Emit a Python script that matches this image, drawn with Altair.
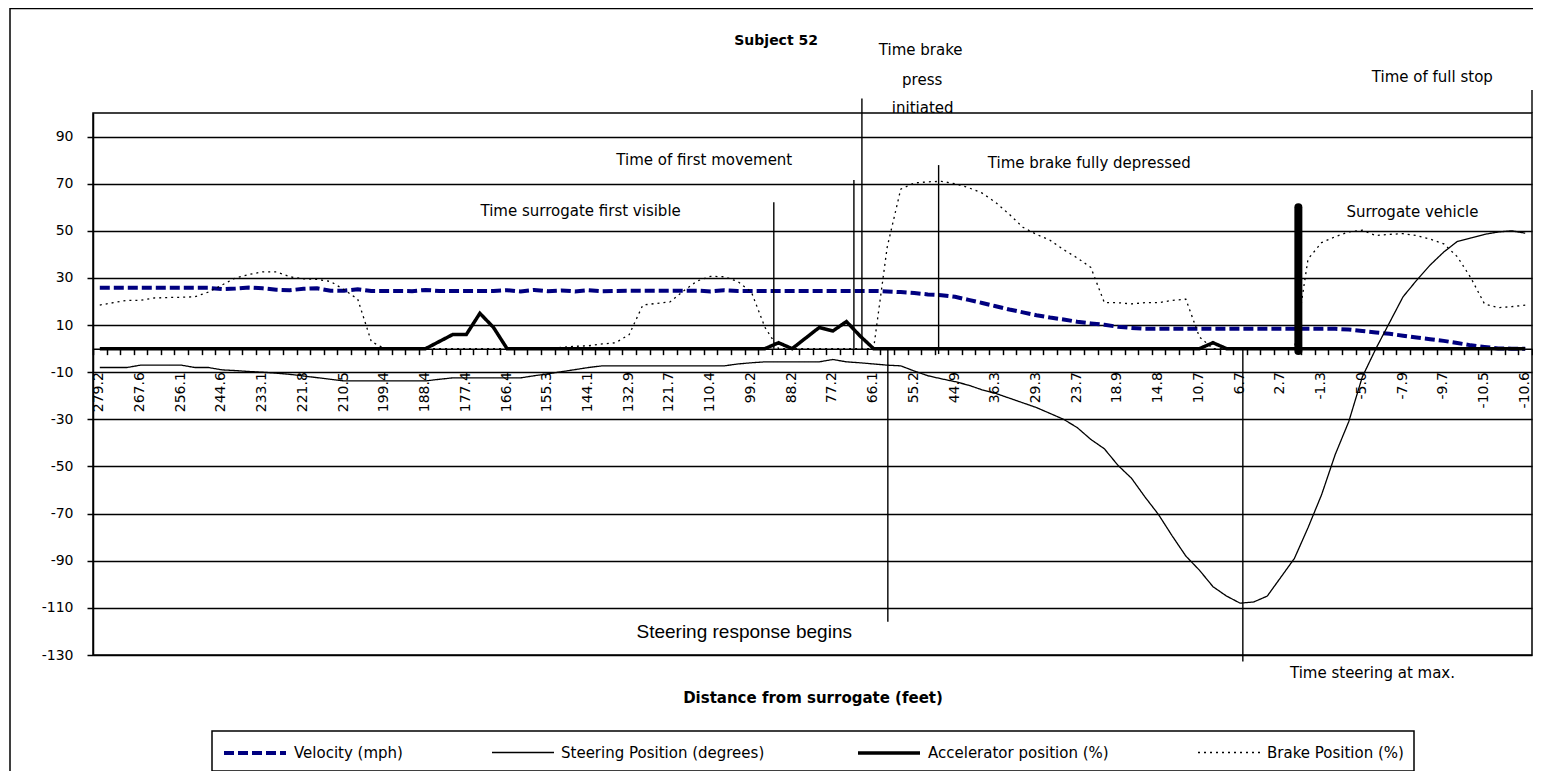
import json
import altair as alt
import pandas as pd

# ---------------- data ----------------
x_labels = ["279.2", "267.6", "256.1", "244.6", "233.1", "221.8", "210.5", "199.4", "188.4",
            "177.4", "166.4", "155.3", "144.1", "132.9", "121.7", "110.4", "99.2", "88.2",
            "77.2", "66.1", "55.2", "44.9", "36.3", "29.3", "23.7", "18.9", "14.8", "10.7",
            "6.7", "2.7", "-1.3", "-5.0", "-7.9", "-9.7", "-10.5", "-10.6"]

series_names = ["Velocity (mph)", "Steering Position (degrees)",
                "Accelerator position (%)", "Brake Position (%)"]

velocity = [25.8, 25.8, 25.8, 25.8, 25.8, 25.8, 25.8, 25.8, 25.8, 25.3,
            25.5, 25.9, 25.6, 25.0, 24.8, 25.4, 25.6, 24.6, 24.6, 25.2,
            24.5, 24.5, 24.5, 24.4, 24.9, 24.5, 24.5, 24.5, 24.5, 24.5,
            24.8, 24.3, 24.9, 24.4, 24.7, 24.3, 24.8, 24.4, 24.5, 24.6,
            24.6, 24.6, 24.6, 24.6, 24.6, 24.3, 24.8, 24.5, 24.5, 24.5,
            24.5, 24.5, 24.5, 24.5, 24.5, 24.5, 24.5, 24.5, 24.3, 24.0,
            23.6, 23.0, 22.7, 22.0, 20.7, 19.4, 18.0, 16.6, 15.4, 14.2,
            13.2, 12.4, 11.4, 10.7, 10.1, 9.3, 8.8, 8.4, 8.4, 8.4,
            8.4, 8.4, 8.4, 8.4, 8.4, 8.4, 8.4, 8.4, 8.4, 8.4,
            8.4, 8.4, 8.1, 7.5, 6.9, 6.3, 5.5, 4.7, 4.0, 3.3,
            2.4, 1.4, 0.7, 0.1, 0.0, 0.0]

steering = [-8, -8, -8, -7, -7, -7, -7, -8, -8, -9,
            -9.3, -9.7, -10, -10.4, -10.9, -11.6, -12.3, -13, -13.7, -13.7,
            -13.7, -13.7, -13.7, -13.7, -13.7, -13, -12.4, -12.4, -12.4, -12.4,
            -12.4, -12.4, -11.5, -10.7, -9.8, -8.9, -8, -7.3, -7.3, -7.3,
            -7.3, -7.3, -7.3, -7.3, -7.3, -7.3, -7.3, -6.5, -6, -5.6,
            -5.6, -5.6, -5.6, -5.6, -4.6, -5.6, -6, -6.5, -7, -7.3,
            -9.5, -11.5, -12.8, -14, -15.5, -17.5, -19, -21, -23, -25,
            -27.5, -30, -33.5, -38.5, -42.5, -49.5, -55, -63, -70.5, -79.5,
            -88, -94, -101, -105, -108, -107.5, -105, -97, -89, -76,
            -62, -45, -31, -12, 0, 11, 22, 29, 35.5, 41,
            45.5, 47, 48.5, 49.5, 50, 49]

accelerator = [0, 0, 0, 0, 0, 0, 0, 0, 0, 0,
               0, 0, 0, 0, 0, 0, 0, 0, 0, 0,
               0, 0, 0, 0, 0, 3, 6, 6, 15, 9,
               0, 0, 0, 0, 0, 0, 0, 0, 0, 0,
               0, 0, 0, 0, 0, 0, 0, 0, 0, 0,
               2.5, 0, 4.5, 9, 7.5, 11.5, 5.4, 0, 0, 0,
               0, 0, 0, 0, 0, 0, 0, 0, 0, 0,
               0, 0, 0, 0, 0, 0, 0, 0, 0, 0,
               0, 0, 2.5, 0, 0, 0, 0, 0, 0, 0,
               0, 0, 0, 0, 0, 0, 0, 0, 0, 0,
               0, 0, 0, 0, 0, 0]

brake = [18.5, 19.5, 20.5, 20.5, 21.5, 21.7, 21.8, 22, 24, 27,
         30, 31.5, 32.6, 32.6, 30.5, 29.6, 29.4, 28.5, 25, 21,
         3, 0, 0, 0, 0, 0, 0, 0, 0, 0,
         0, 0, 0, 0, 0.5, 1, 1.2, 2, 2.5, 6,
         18.5, 19.2, 19.8, 24.5, 28.7, 30.7, 30.5, 28.5, 24, 9,
         0, 0, 0, 0, 0, 0, 0, 0, 43, 67.7,
         70.3, 70.8, 71, 70, 68.3, 66, 62, 57, 51.5, 48.5,
         46, 42, 38.5, 34.5, 19.5, 19.5, 19, 19.5, 19.5, 20.5,
         21, 5, 0, 0, 0, 0, 0, 0, 0, 38,
         45, 47.5, 49.5, 50.3, 48, 48.5, 48.8, 48, 46.5, 44.5,
         39, 30, 19, 17.4, 17.8, 18.5]

# annotation lines (category position, top value, bottom value)
marker_pos = [50.15, 56.05, 56.64, 62.29, 58.55, 84.70, 106.0]
marker_top = [62.1, 71.6, 106.2, 77.9, 0.0, 0.0, 109.8]
marker_bottom = [0.0, 0.0, 0.0, -2.3, -115.9, -132.8, 100.0]

surrogate_pos = [88.79]
surrogate_top = [60.0]
surrogate_bottom = [-1.0]

note_text = ["Time surrogate first visible", "Time of first movement", "Time brake",
             "press", "initiated", "Time brake fully depressed", "Time of full stop",
             "Surrogate vehicle", "Time steering  at max."]
note_pos = [35.92, 45.03, 60.97, 61.08, 61.12, 73.39, 98.66, 97.19, 94.25]
note_val = [58.4, 80.06, 126.7, 114.0, 102.1, 78.8, 115.3, 58.1, -137.6]

big_note_text = ["Steering response begins"]
big_note_pos = [47.97]
big_note_val = [-120.2]

title_text = ["Subject 52"]
title_pos = [50.32]
title_val = [130.6]

# ---------------- tables ----------------
rows = []
for name, vals in zip(series_names, [velocity, steering, accelerator, brake]):
    for i, v in enumerate(vals):
        rows.append({"pos": i + 0.5, "series": name, "value": v})
df = pd.DataFrame(rows)

markers = pd.DataFrame({"pos": marker_pos, "top": marker_top, "bottom": marker_bottom})
surrogate = pd.DataFrame({"pos": surrogate_pos, "top": surrogate_top, "bottom": surrogate_bottom})
notes = pd.DataFrame({"pos": note_pos, "val": note_val, "label": note_text})
big_notes = pd.DataFrame({"pos": big_note_pos, "val": big_note_val, "label": big_note_text})
titles = pd.DataFrame({"pos": title_pos, "val": title_val, "label": title_text})

N = len(velocity)
W, H = 1439, 542
YMIN, YMAX = -130, 100
zero_from_bottom = H - (YMAX - 0) / (YMAX - YMIN) * H
zero_from_top = H - zero_from_bottom

xscale = alt.Scale(domain=[0, N], nice=False, zero=False)
yscale = alt.Scale(domain=[YMIN, YMAX], nice=False, zero=False)

label_expr = ("(datum.value % 3 == 0 && datum.value < " + str(N) + ") ? "
              + json.dumps(x_labels) + "[datum.value / 3] : ''")

x_axis = alt.Axis(
    values=list(range(0, N + 1)), labelExpr=label_expr, labelAngle=270,
    labelAlign="right", labelBaseline="middle", labelOffset=W / N / 2 - 1, labelPadding=17,
    labelFont="DejaVu Sans", labelFontSize=14, labelColor="black",
    labelOverlap=False, labelFlush=False, labelBound=False,
    tickSize=6, tickColor="black", tickWidth=1.5,
    domainColor="black", domainWidth=1.5, grid=False,
    offset=-zero_from_bottom,
    title="Distance from surrogate (feet)", titleFont="DejaVu Sans", titleFontSize=15,
    titleFontWeight="bold", titleColor="black", titleX=W / 2, titleY=584 - zero_from_top,
    titleBaseline="middle", titleAlign="center")

y_axis = alt.Axis(
    values=list(range(-130, 91, 20)), labelExpr="datum.value + ''",
    grid=True, gridColor="black", gridWidth=1.5,
    gridOpacity=1, tickSize=6, tickColor="black", tickWidth=1.5,
    domainColor="black", domainWidth=1.5, labelFont="DejaVu Sans", labelFontSize=14,
    labelColor="black", labelPadding=14, title=None)

legend = alt.Legend(
    title=None, orient="none", legendX=119, legendY=618, direction="horizontal",
    symbolType="M-1,0H5.2", symbolSize=400, labelFont="DejaVu Sans", labelFontSize=15,
    labelColor="black", labelLimit=600, columnPadding=86, labelOffset=48, padding=10,
    fillColor="white")

enc_x = alt.X("pos:Q", scale=xscale, axis=x_axis)

lines = alt.Chart(df).mark_line().encode(
    x=enc_x,
    y=alt.Y("value:Q", scale=yscale, axis=y_axis),
    color=alt.Color("series:N", scale=alt.Scale(domain=series_names,
                    range=["#000080", "black", "black", "black"]), legend=legend),
    strokeDash=alt.StrokeDash("series:N", scale=alt.Scale(domain=series_names,
                    range=[[10, 4], [1, 0], [1, 0], [2, 4]]), legend=legend),
    strokeWidth=alt.StrokeWidth("series:N", scale=alt.Scale(type="ordinal", domain=series_names,
                    range=[4, 1.3, 3.5, 1.3]), legend=legend),
    order="pos:Q",
)

rules = alt.Chart(markers).mark_rule(color="black", strokeWidth=1.4).encode(
    x=enc_x,
    y=alt.Y("top:Q", scale=yscale, axis=y_axis),
    y2="bottom:Q",
)

bar = alt.Chart(surrogate).mark_rule(color="black", strokeWidth=8, strokeCap="round").encode(
    x=enc_x,
    y=alt.Y("top:Q", scale=yscale, axis=y_axis),
    y2="bottom:Q",
)

note_marks = alt.Chart(notes).mark_text(
    font="DejaVu Sans", fontSize=15, color="black", align="center", baseline="middle"
).encode(
    x=enc_x,
    y=alt.Y("val:Q", scale=yscale, axis=y_axis),
    text="label:N",
)

big_note_marks = alt.Chart(big_notes).mark_text(
    font="Liberation Sans", fontSize=19, color="black", align="center", baseline="middle"
).encode(
    x=enc_x,
    y=alt.Y("val:Q", scale=yscale, axis=y_axis),
    text="label:N",
)

title_marks = alt.Chart(titles).mark_text(
    font="DejaVu Sans", fontSize=14, fontWeight="bold", color="black",
    align="center", baseline="middle"
).encode(
    x=enc_x,
    y=alt.Y("val:Q", scale=yscale, axis=y_axis),
    text="label:N",
)

frame = alt.Chart(alt.Data(values=[{}])).mark_rect(
    fillOpacity=0, stroke="black", strokeWidth=1.5
).encode(
    x=alt.value(-83), x2=alt.value(1460), y=alt.value(-104.5), y2=alt.value(700)
)

chart = alt.layer(
    frame, lines, rules, bar, note_marks, big_note_marks, title_marks
).properties(
    width=W, height=H,
    autosize=alt.AutoSizeParams(type="none"),
    padding={"left": 85, "top": 105, "right": 1, "bottom": 116},
).configure(background="white").configure_view(
    stroke="black", strokeWidth=1.5
).configure_legend(strokeColor="black", strokeWidth=1.5)

chart.save("out.html", embed_options={"renderer": "svg", "actions": False})
